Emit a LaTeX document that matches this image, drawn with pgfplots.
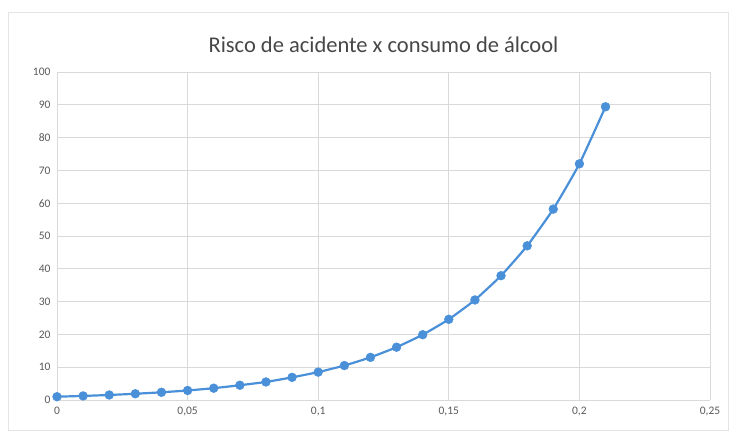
\documentclass[border=0pt]{standalone}
\usepackage{pgfplots}
\pgfplotsset{compat=1.18}
\usepackage{fontspec}
\setmainfont{Carlito}
\definecolor{serie}{HTML}{4A90D9}
\definecolor{gridc}{HTML}{D9D9D9}
\definecolor{txt}{HTML}{595959}
\begin{document}
\begin{tikzpicture}[x=1pt,y=1pt]
\path (-57,-35) rectangle (675,400);
\draw[gridc!70, line width=0.8pt] (-49,-30) rectangle (671,388);
\begin{axis}[
  at={(0,0)}, anchor=south west,
  scale only axis, width=653pt, height=328pt,
  xmin=0, xmax=0.25, ymin=0, ymax=100,
  xtick={0,0.05,0.1,0.15,0.2,0.25},
  xticklabels={0,{0,05},{0,1},{0,15},{0,2},{0,25}},
  ytick={0,10,...,100},
  grid=major,
  major grid style={gridc, line width=0.8pt},
  axis line style={draw=none},
  tick style={draw=none},
  ticklabel style={font=\fontsize{11.5}{13}\selectfont, text=txt},
  yticklabel style={xshift=-3pt},
  xticklabel style={yshift=-4pt},
  /pgf/number format/assume math mode=true,
  title={Risco de acidente x consumo de álcool},
  title style={font=\fontsize{22.5}{26}\selectfont, text=txt!80!black, yshift=10pt},
  clip=false,
]
\addplot[serie, line width=2.2pt, mark=*, mark size=4.4pt, mark options={fill=serie, draw=serie, line width=0.5pt}, smooth, tension=0.3] coordinates {
(0,1) (0.01,1.24) (0.02,1.53) (0.03,1.9) (0.04,2.35) (0.05,2.9)
(0.06,3.6) (0.07,4.5) (0.08,5.5) (0.09,6.9) (0.1,8.5) (0.11,10.5)
(0.12,13) (0.13,16.1) (0.14,19.9) (0.15,24.6) (0.16,30.5) (0.17,37.9)
(0.18,47) (0.19,58.2) (0.2,72) (0.21,89.4)
};
\end{axis}
\end{tikzpicture}
\end{document}
